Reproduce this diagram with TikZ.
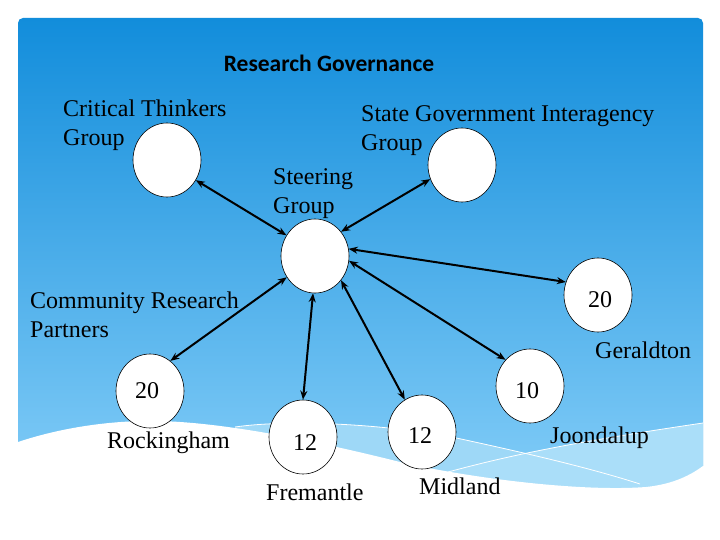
\documentclass[tikz,border=0pt]{standalone}
\usepackage{fontspec}
\setmainfont{Liberation Serif}
\newfontfamily\titlefont{Carlito}
\usetikzlibrary{shapes.geometric,arrows.meta}
\definecolor{paneltop}{RGB}{18,141,219}
\definecolor{panelbot}{RGB}{140,210,250}
\definecolor{bandA}{RGB}{158,216,247}
\definecolor{bandB}{RGB}{170,222,249}
\begin{document}
\begin{tikzpicture}[x=1pt,y=-1pt,
  circ/.style={ellipse,draw=black,line width=0.6pt,fill=white,minimum width=68pt,minimum height=74pt,inner sep=0pt},
  lbl/.style={anchor=base west,align=left,inner sep=0pt,font=\fontsize{24}{29}\selectfont},
  num/.style={anchor=base,inner sep=0pt,font=\fontsize{24}{29}\selectfont},
  link/.style={{Stealth[length=9pt,width=7pt]}-{Stealth[length=9pt,width=7pt]},line width=2pt,black}]
\useasboundingbox (0,0) rectangle (720,540);
\fill[white] (0,0) rectangle (720,540);
% panel
\shade[top color=paneltop,bottom color=panelbot,rounded corners=5pt] (18,18) rectangle (703,530);
% lighter bands
\fill[bandA] (235,427) .. controls (290,419) and (390,424) .. (461,439) .. controls (530,454) and (590,468) .. (640,484) -- (640,540) -- (235,540) -- cycle;
\fill[bandB] (448,472) .. controls (500,458) and (560,444) .. (703,423) -- (703,540) -- (448,540) -- cycle;
\draw[white,line width=0.8pt] (235,427) .. controls (290,419) and (390,424) .. (461,439) .. controls (530,454) and (590,468) .. (640,484);
\draw[white,line width=0.8pt] (448,472) .. controls (500,458) and (560,444) .. (703,423);
% white wave
\fill[white] (0,442) -- (18,442) .. controls (60,428) and (110,420) .. (160,421) .. controls (230,423) and (320,442) .. (400,462) .. controls (470,478) and (580,492) .. (646,487) .. controls (675,484) and (692,474) .. (703,466) -- (720,466) -- (720,540) -- (0,540) -- cycle;
% title
\node[anchor=base,inner sep=0pt,font=\titlefont\bfseries\fontsize{23.5}{28}\selectfont] (title) at (329,72) {Research Governance};
% circles
\node[circ] (crit) at (167,160) {};
\node[circ] (state) at (462,165) {};
\node[circ] (steer) at (315,256) {};
\node[circ] (ger) at (598,295) {};
\node[circ] (joon) at (530,386) {};
\node[circ] (mid) at (422,432) {};
\node[circ] (frem) at (303,437) {};
\node[circ] (rock) at (150,391) {};
% numbers
\node[num] (gern) at (600,307) {20};
\node[num] (joonn) at (527,398) {10};
\node[num] (midn) at (420,443) {12};
\node[num] (fremn) at (305,450) {12};
\node[num] (rockn) at (147,398) {20};
% labels (base = baseline of last line)
\node[lbl] (critl) at (63,146) {Critical Thinkers\\Group};
\node[lbl] (statel) at (361,151) {State Government Interagency\\Group};
\node[lbl] (steerl) at (273,214) {Steering\\Group};
\node[lbl] (comml) at (30,337) {Community Research\\Partners};
\node[lbl] (rockl) at (107,448) {Rockingham};
\node[lbl] (freml) at (266,500) {Fremantle};
\node[lbl] (midl) at (419,494) {Midland};
\node[lbl] (joonl) at (550,443) {Joondalup};
\node[lbl] (gerl) at (595,358) {Geraldton};
% connectors
\draw[link] (steer.144) -- (crit.-35);
\draw[link] (steer.43) -- (state.204);
\draw[link] (steer.12) -- (ger.158);
\draw[link] (steer.-8) -- (joon.133);
\draw[link] (steer.-43) -- (mid.118);
\draw[link] (steer.-93) -- (frem.90);
\draw[link] (steer.-143) -- (rock.56);
\end{tikzpicture}
\end{document}
